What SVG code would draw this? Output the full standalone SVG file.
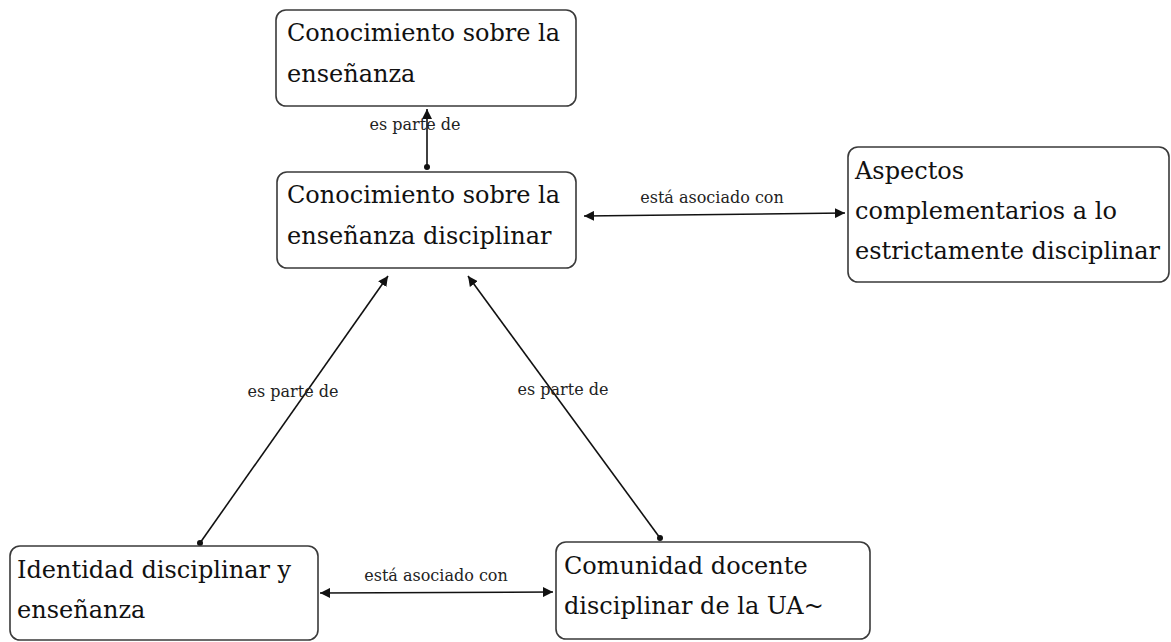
<svg xmlns="http://www.w3.org/2000/svg" width="1171" height="642" viewBox="0 0 1171 642">
<style>
.box{fill:#fff;stroke:#3a3a3a;stroke-width:1.6}
.t{font-family:"DejaVu Serif","Liberation Serif",serif;font-size:24px;fill:#111}
.l{font-family:"DejaVu Serif","Liberation Serif",serif;font-size:16px;fill:#222;text-anchor:middle}
.c{stroke:#111;stroke-width:1.6;fill:none}
</style>
<defs>
<marker id="ah" viewBox="0 0 10 10" refX="10" refY="5" markerWidth="10" markerHeight="10" markerUnits="userSpaceOnUse" orient="auto-start-reverse"><path d="M0,0 L10,5 L0,10 z" fill="#111"/></marker>
<marker id="dot" viewBox="0 0 6 6" refX="3" refY="3" markerWidth="6" markerHeight="6" markerUnits="userSpaceOnUse"><circle cx="3" cy="3" r="3" fill="#111"/></marker>
</defs>
<g id="connectors">
<line class="c" x1="427" y1="167" x2="427" y2="109" marker-start="url(#dot)" marker-end="url(#ah)"/>
<text class="l" x="415" y="130">es parte de</text>
<line class="c" x1="584" y1="216" x2="845" y2="213" marker-start="url(#ah)" marker-end="url(#ah)"/>
<text class="l" x="712" y="203">está asociado con</text>
<line class="c" x1="200" y1="543" x2="388" y2="276" marker-start="url(#dot)" marker-end="url(#ah)"/>
<text class="l" x="293" y="397">es parte de</text>
<line class="c" x1="660" y1="538" x2="468" y2="276" marker-start="url(#dot)" marker-end="url(#ah)"/>
<text class="l" x="563" y="395">es parte de</text>
<line class="c" x1="320" y1="593" x2="553" y2="592" marker-start="url(#ah)" marker-end="url(#ah)"/>
<text class="l" x="436" y="581">está asociado con</text>
</g>
<g id="n1">
<rect class="box" x="276" y="10" width="300" height="96" rx="10"/>
<text class="t" x="287" y="41">Conocimiento sobre la</text>
<text class="t" x="287" y="82">enseñanza</text>
</g>
<g id="n2">
<rect class="box" x="277" y="172" width="299" height="96" rx="10"/>
<text class="t" x="287" y="203">Conocimiento sobre la</text>
<text class="t" x="287" y="244">enseñanza disciplinar</text>
</g>
<g id="n3">
<rect class="box" x="848" y="147" width="321" height="135" rx="10"/>
<text class="t" x="855" y="179">Aspectos</text>
<text class="t" x="855" y="219">complementarios a lo</text>
<text class="t" x="855" y="259">estrictamente disciplinar</text>
</g>
<g id="n4">
<rect class="box" x="10" y="546" width="308" height="94" rx="10"/>
<text class="t" x="17" y="578">Identidad disciplinar y</text>
<text class="t" x="17" y="618">enseñanza</text>
</g>
<g id="n5">
<rect class="box" x="556" y="542" width="314" height="97" rx="10"/>
<text class="t" x="564" y="574">Comunidad docente</text>
<text class="t" x="564" y="614">disciplinar de la UA~</text>
</g>
</svg>
